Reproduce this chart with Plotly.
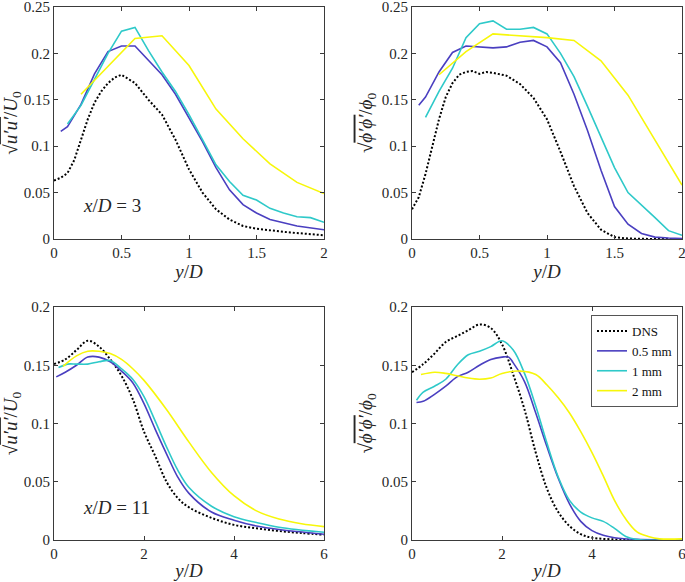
import plotly.graph_objects as go

# ---------------- data ----------------
# Panel (a): x/D = 3, u'
a_dns_x = [0, 0.05, 0.1, 0.15, 0.2, 0.25, 0.3, 0.35, 0.4, 0.45, 0.5, 0.6, 0.7, 0.8, 0.9, 1.0, 1.1, 1.2, 1.3, 1.4, 1.5, 1.75, 2.0]
a_dns_y = [0.063, 0.066, 0.071, 0.085, 0.107, 0.129, 0.147, 0.159, 0.168, 0.174, 0.177, 0.168, 0.150, 0.134, 0.107, 0.075, 0.050, 0.032, 0.021, 0.014, 0.011, 0.007, 0.004]
a_05_x = [0.05, 0.1, 0.2, 0.3, 0.4, 0.5, 0.6, 0.7, 0.8, 0.9, 1.0, 1.1, 1.2, 1.3, 1.4, 1.5, 1.6, 1.8, 2.0]
a_05_y = [0.116, 0.121, 0.145, 0.178, 0.202, 0.208, 0.208, 0.193, 0.177, 0.156, 0.130, 0.105, 0.077, 0.053, 0.037, 0.028, 0.021, 0.014, 0.010]
a_1_x = [0.1, 0.2, 0.3, 0.4, 0.5, 0.6, 0.7, 0.8, 0.9, 1.0, 1.1, 1.2, 1.3, 1.4, 1.5, 1.6, 1.7, 1.8, 1.9, 2.0]
a_1_y = [0.124, 0.144, 0.172, 0.200, 0.224, 0.228, 0.203, 0.180, 0.159, 0.134, 0.107, 0.080, 0.062, 0.047, 0.042, 0.033, 0.028, 0.024, 0.023, 0.018]
a_2_x = [0.2, 0.4, 0.6, 0.8, 1.0, 1.2, 1.4, 1.6, 1.8, 2.0]
a_2_y = [0.156, 0.186, 0.216, 0.219, 0.187, 0.140, 0.108, 0.081, 0.061, 0.049]

# Panel (b): x/D = 3, phi'
b_dns_x = [0, 0.05, 0.1, 0.15, 0.2, 0.25, 0.3, 0.35, 0.4, 0.45, 0.5, 0.55, 0.6, 0.7, 0.8, 0.9, 1.0, 1.1, 1.2, 1.3, 1.4, 1.5, 1.6, 1.8, 2.0]
b_dns_y = [0.032, 0.045, 0.070, 0.100, 0.129, 0.153, 0.168, 0.177, 0.180, 0.181, 0.178, 0.180, 0.179, 0.176, 0.167, 0.152, 0.129, 0.094, 0.057, 0.028, 0.010, 0.002, 0.0005, 0.0, 0.0]
b_05_x = [0.05, 0.1, 0.2, 0.3, 0.4, 0.5, 0.6, 0.7, 0.8, 0.9, 1.0, 1.1, 1.2, 1.3, 1.4, 1.5, 1.6, 1.7, 1.8, 1.9, 2.0]
b_05_y = [0.144, 0.153, 0.180, 0.201, 0.208, 0.207, 0.206, 0.207, 0.212, 0.214, 0.207, 0.190, 0.156, 0.117, 0.074, 0.035, 0.016, 0.006, 0.002, 0.001, 0.0005]
b_1_x = [0.1, 0.2, 0.3, 0.4, 0.5, 0.6, 0.7, 0.8, 0.9, 1.0, 1.1, 1.2, 1.3, 1.4, 1.5, 1.6, 1.7, 1.8, 1.9, 2.0]
b_1_y = [0.131, 0.159, 0.184, 0.217, 0.232, 0.235, 0.226, 0.226, 0.228, 0.221, 0.200, 0.175, 0.143, 0.109, 0.077, 0.050, 0.037, 0.023, 0.009, 0.004]
b_2_x = [0.2, 0.4, 0.6, 0.8, 1.0, 1.2, 1.4, 1.6, 1.8, 2.0]
b_2_y = [0.177, 0.202, 0.221, 0.219, 0.217, 0.214, 0.192, 0.155, 0.107, 0.058]

# Panel (c): x/D = 11, u'
c_dns_x = [0, 0.25, 0.5, 0.75, 1.0, 1.25, 1.5, 1.75, 2.0, 2.25, 2.5, 2.75, 3.0, 3.5, 4.0, 4.5, 5.0, 5.5, 6.0]
c_dns_y = [0.151, 0.155, 0.163, 0.171, 0.166, 0.155, 0.141, 0.121, 0.093, 0.072, 0.050, 0.036, 0.028, 0.019, 0.013, 0.010, 0.0077, 0.006, 0.0045]
c_05_x = [0.05, 0.25, 0.5, 0.75, 1.0, 1.25, 1.5, 1.75, 2.0, 2.25, 2.5, 2.75, 3.0, 3.5, 4.0, 4.5, 5.0, 6.0]
c_05_y = [0.140, 0.144, 0.150, 0.157, 0.157, 0.153, 0.145, 0.135, 0.117, 0.095, 0.074, 0.054, 0.040, 0.024, 0.017, 0.012, 0.009, 0.005]
c_1_x = [0.1, 0.3, 0.5, 0.75, 1.0, 1.25, 1.5, 1.75, 2.0, 2.25, 2.5, 2.75, 3.0, 3.5, 4.0, 4.5, 5.0, 6.0]
c_1_y = [0.148, 0.151, 0.151, 0.151, 0.153, 0.154, 0.147, 0.138, 0.123, 0.102, 0.080, 0.060, 0.045, 0.029, 0.020, 0.015, 0.011, 0.0066]
c_2_x = [0.2, 0.5, 0.75, 1.0, 1.25, 1.5, 1.75, 2.0, 2.5, 3.0, 3.5, 4.0, 4.5, 5.0, 5.5, 6.0]
c_2_y = [0.149, 0.158, 0.162, 0.162, 0.160, 0.155, 0.147, 0.137, 0.112, 0.084, 0.058, 0.038, 0.025, 0.018, 0.014, 0.0115]

# Panel (d): x/D = 11, phi'
d_dns_x = [0, 0.25, 0.5, 0.75, 1.0, 1.25, 1.5, 1.75, 2.0, 2.25, 2.5, 2.75, 3.0, 3.25, 3.5, 3.75, 4.0, 4.5, 5.0, 6.0]
d_dns_y = [0.144, 0.151, 0.160, 0.170, 0.175, 0.180, 0.185, 0.182, 0.168, 0.142, 0.112, 0.075, 0.044, 0.024, 0.012, 0.005, 0.002, 0.0005, 0.0, 0.0]
d_05_x = [0.1, 0.25, 0.5, 0.75, 1.0, 1.25, 1.5, 1.75, 2.0, 2.15, 2.25, 2.5, 2.75, 3.0, 3.25, 3.5, 3.75, 4.0, 4.25, 4.5, 5.0, 6.0]
d_05_y = [0.118, 0.119, 0.125, 0.132, 0.140, 0.144, 0.150, 0.155, 0.157, 0.157, 0.152, 0.136, 0.109, 0.080, 0.053, 0.031, 0.016, 0.008, 0.004, 0.002, 0.0005, 0.0]
d_1_x = [0.1, 0.25, 0.5, 0.75, 1.0, 1.25, 1.5, 1.75, 2.0, 2.25, 2.5, 2.75, 3.0, 3.25, 3.5, 3.75, 4.0, 4.25, 4.5, 4.75, 5.0, 6.0]
d_1_y = [0.120, 0.127, 0.132, 0.138, 0.150, 0.159, 0.162, 0.166, 0.171, 0.163, 0.143, 0.115, 0.083, 0.054, 0.034, 0.024, 0.019, 0.016, 0.010, 0.003, 0.0005, 0.0]
d_2_x = [0.2, 0.5, 0.75, 1.0, 1.25, 1.5, 1.75, 2.0, 2.4, 2.75, 3.0, 3.25, 3.5, 3.75, 4.0, 4.25, 4.5, 4.75, 5.0, 5.25, 5.5, 6.0]
d_2_y = [0.142, 0.144, 0.143, 0.141, 0.139, 0.138, 0.139, 0.143, 0.145, 0.142, 0.133, 0.122, 0.109, 0.093, 0.075, 0.055, 0.034, 0.018, 0.007, 0.003, 0.001, 0.001]

series_names = ["DNS", "0.5 mm", "1 mm", "2 mm"]
x_ticks_top = [0, 0.5, 1, 1.5, 2]
x_ticks_bot = [0, 2, 4, 6]
y_ticks_top = [0, 0.05, 0.1, 0.15, 0.2, 0.25]
y_ticks_bot = [0, 0.05, 0.1, 0.15, 0.2]

# ---------------- styling ----------------
COLORS = ["#000000", "#4a3fc0", "#2ec9c9", "#f7f70a"]
FONT = "Liberation Serif"
AX = "#3a3a3a"
W, H = 685, 582


def px(x):
    return x / W


def py(y):
    return 1 - y / H


def dom_x(a, b):
    return [px(a), px(b)]


def dom_y(top, bot):
    return [py(bot), py(top)]


panels = [
    dict(data=[(a_dns_x, a_dns_y), (a_05_x, a_05_y), (a_1_x, a_1_y), (a_2_x, a_2_y)],
         xd=dom_x(54, 324), yd=dom_y(7, 239), xr=[0, 2], yr=[0, 0.25],
         xt=x_ticks_top, yt=y_ticks_top, shape="linear"),
    dict(data=[(b_dns_x, b_dns_y), (b_05_x, b_05_y), (b_1_x, b_1_y), (b_2_x, b_2_y)],
         xd=dom_x(412, 682), yd=dom_y(7, 239), xr=[0, 2], yr=[0, 0.25],
         xt=x_ticks_top, yt=y_ticks_top, shape="linear"),
    dict(data=[(c_dns_x, c_dns_y), (c_05_x, c_05_y), (c_1_x, c_1_y), (c_2_x, c_2_y)],
         xd=dom_x(54, 324), yd=dom_y(307, 540), xr=[0, 6], yr=[0, 0.2],
         xt=x_ticks_bot, yt=y_ticks_bot, shape="spline"),
    dict(data=[(d_dns_x, d_dns_y), (d_05_x, d_05_y), (d_1_x, d_1_y), (d_2_x, d_2_y)],
         xd=dom_x(412, 682), yd=dom_y(307, 540), xr=[0, 6], yr=[0, 0.2],
         xt=x_ticks_bot, yt=y_ticks_bot, shape="spline"),
]

ylab_u = "√<span style='text-decoration:overline'><i>u′u′</i></span>/<i>U</i><sub>0</sub>"
ylab_p = "√<span style='text-decoration:overline'><i>ϕ′ϕ′</i></span>/<i>ϕ</i><sub>0</sub>"
ylabels = [ylab_u, ylab_p, ylab_u, ylab_p]

fig = go.Figure()
layout = dict(width=W, height=H, margin=dict(l=0, r=0, t=0, b=0, autoexpand=False),
              paper_bgcolor="white", plot_bgcolor="white",
              font=dict(family=FONT, size=15, color="#262626"), showlegend=True)

for i, p in enumerate(panels):
    k = "" if i == 0 else str(i + 1)
    for j, (xs, ys) in enumerate(p["data"]):
        line = dict(color=COLORS[j], width=2.0 if j == 0 else 1.6,
                    shape=p["shape"])
        if j == 0:
            line["dash"] = "2px,2px"
        fig.add_trace(go.Scatter(x=xs, y=ys, mode="lines", name=series_names[j],
                                 line=line, xaxis="x" + k, yaxis="y" + k,
                                 showlegend=(i == 3), cliponaxis=False))
    common = dict(showgrid=False, zeroline=False, showline=True, linecolor=AX,
                  linewidth=1, mirror="ticks", ticks="inside", ticklen=4,
                  tickcolor=AX, ticklabeloverflow="allow",
                  tickfont=dict(family=FONT, size=15, color="#262626"))
    layout["xaxis" + k] = dict(domain=p["xd"], range=p["xr"], tickvals=p["xt"],
                               anchor="y" + k,
                               title=dict(text="<i>y</i>/<i>D</i>", standoff=2,
                                          font=dict(family=FONT, size=19)),
                               **common)
    layout["yaxis" + k] = dict(domain=p["yd"], range=p["yr"], tickvals=p["yt"],
                               anchor="x" + k,
                               title=dict(text=ylabels[i], standoff=4,
                                          font=dict(family=FONT, size=19)),
                               **common)

layout["legend"] = dict(x=px(678), y=py(315), xanchor="right", yanchor="top",
                        bgcolor="white", bordercolor="#555555", borderwidth=1,
                        font=dict(family=FONT, size=13, color="#111111"),
                        tracegroupgap=0, itemwidth=30)
layout["annotations"] = [
    dict(x=0.43, y=0.0356, xref="x", yref="y", text="<i>x</i>/<i>D</i> = 3",
         showarrow=False, font=dict(family=FONT, size=19, color="#262626")),
    dict(x=1.39, y=0.028, xref="x3", yref="y3", text="<i>x</i>/<i>D</i> = 11",
         showarrow=False, font=dict(family=FONT, size=19, color="#262626")),
]
fig.update_layout(**layout)
fig.write_html("out.html", config={"displayModeBar": False},
               post_script="document.body.style.margin='0';")
